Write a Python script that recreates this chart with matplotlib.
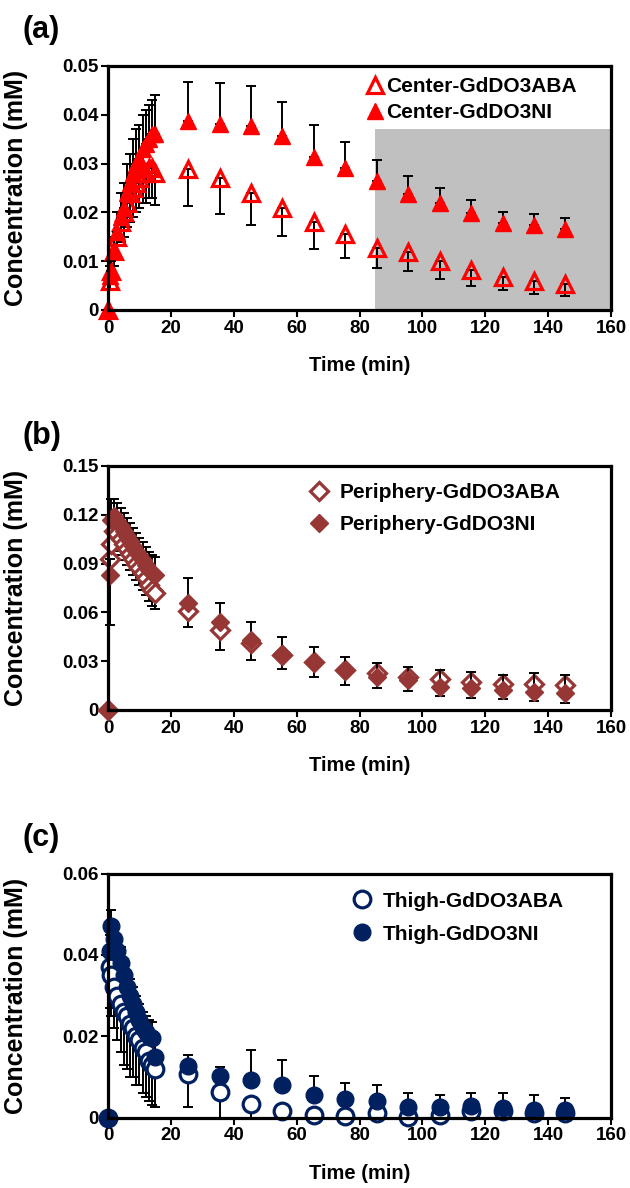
import matplotlib
matplotlib.use("Agg")
import matplotlib.pyplot as plt
from matplotlib.ticker import FuncFormatter, MultipleLocator
import numpy as np

plt.rcParams['font.family'] = ['Liberation Sans', 'DejaVu Sans']
plt.rcParams['font.weight'] = 'bold'

# ---------------- data ----------------
time = [0, 0.5, 1, 2, 3, 4, 5, 6, 7, 8, 9, 10, 11, 12, 13, 14, 15,
        25.5, 35.5, 45.5, 55.5, 65.5, 75.5, 85.5, 95.5, 105.5, 115.5, 125.5, 135.5, 145.5]

# (a) Center
center_aba = [0, 0.006, 0.008, 0.012, 0.015, 0.018, 0.020, 0.022, 0.024, 0.025, 0.026,
              0.027, 0.028, 0.028, 0.029, 0.029, 0.028,
              0.0289, 0.0270, 0.0239, 0.0208, 0.0180, 0.0156, 0.0128, 0.0118, 0.0101,
              0.0082, 0.0068, 0.0059, 0.0053]
center_aba_err = [0, 0.002, 0.002, 0.003, 0.004, 0.004, 0.005, 0.005, 0.006, 0.006, 0.006,
                  0.006, 0.006, 0.006, 0.006, 0.006, 0.0065,
                  0.0075, 0.0073, 0.0064, 0.0057, 0.0054, 0.0049, 0.0042, 0.0038, 0.0038,
                  0.0033, 0.0028, 0.0026, 0.0024]
center_ni = [0, 0.007, 0.008, 0.012, 0.016, 0.019, 0.021, 0.024, 0.026, 0.028, 0.030,
             0.031, 0.033, 0.034, 0.035, 0.036, 0.036,
             0.0387, 0.0382, 0.0378, 0.0356, 0.0314, 0.0292, 0.0265, 0.0237, 0.0220,
             0.0198, 0.0178, 0.0174, 0.0165]
center_ni_err = [0, 0.002, 0.002, 0.003, 0.004, 0.005, 0.005, 0.006, 0.006, 0.007, 0.007,
                 0.007, 0.007, 0.007, 0.007, 0.007, 0.008,
                 0.0081, 0.0083, 0.0080, 0.0071, 0.0066, 0.0052, 0.0042, 0.0038, 0.0029,
                 0.0027, 0.0023, 0.0023, 0.0023]

# (b) Periphery
peri_aba = [0, 0.093, 0.102, 0.110, 0.108, 0.105, 0.102, 0.099, 0.096, 0.093, 0.090,
            0.087, 0.084, 0.081, 0.077, 0.074, 0.072,
            0.061, 0.049, 0.0414, 0.034, 0.0297, 0.0246, 0.0225, 0.0205, 0.019,
            0.0174, 0.016, 0.016, 0.0154]
peri_aba_err = [0, 0.041, 0.010, 0.010, 0.010, 0.010, 0.010, 0.010, 0.010, 0.010, 0.010,
                0.010, 0.010, 0.010, 0.010, 0.010, 0.010,
                0.010, 0.012, 0.0107, 0.009, 0.0092, 0.009, 0.009, 0.009, 0.0106,
                0.0098, 0.0094, 0.0103, 0.0109]
peri_ni = [0, 0.083, 0.117, 0.119, 0.116, 0.113, 0.110, 0.107, 0.104, 0.101, 0.098,
           0.095, 0.092, 0.089, 0.086, 0.084, 0.083,
           0.066, 0.0543, 0.043, 0.0344, 0.0297, 0.0246, 0.0201, 0.0184, 0.0143,
           0.0133, 0.0123, 0.0113, 0.0103]
peri_ni_err = [0, 0.010, 0.013, 0.011, 0.011, 0.011, 0.011, 0.011, 0.011, 0.011, 0.011,
               0.011, 0.011, 0.011, 0.011, 0.011, 0.011,
               0.015, 0.0117, 0.011, 0.0105, 0.0088, 0.008, 0.0086, 0.0082, 0.0103,
               0.0103, 0.0092, 0.0112, 0.0112]

# (c) Thigh
thigh_aba = [0, 0.037, 0.035, 0.032, 0.030, 0.028, 0.026, 0.025, 0.023, 0.022, 0.020,
             0.019, 0.017, 0.016, 0.014, 0.013, 0.012,
             0.0107, 0.0062, 0.0033, 0.0015, 0.0007, 0.0003, 0.0011, 0.0002, 0.0007,
             0.0017, 0.0016, 0.0012, 0.0011]
thigh_aba_err = [0, 0.010, 0.010, 0.010, 0.011, 0.012, 0.013, 0.013, 0.013, 0.012, 0.012,
                 0.011, 0.011, 0.011, 0.010, 0.010, 0.0095,
                 0.0082, 0.0062, 0.0033, 0.0012, 0.0005, 0.0002, 0.0005, 0.0002, 0.0004,
                 0.0005, 0.0005, 0.0005, 0.0005]
thigh_ni = [0, 0.041, 0.047, 0.044, 0.041, 0.038, 0.035, 0.032, 0.030, 0.028, 0.026,
            0.024, 0.022, 0.021, 0.020, 0.0195, 0.015,
            0.0126, 0.0103, 0.0093, 0.0081, 0.0056, 0.0045, 0.0040, 0.0026, 0.0026,
            0.0028, 0.0023, 0.0018, 0.0018]
thigh_ni_err = [0, 0.004, 0.004, 0.004, 0.004, 0.004, 0.004, 0.004, 0.004, 0.004, 0.004,
                0.004, 0.004, 0.004, 0.004, 0.004, 0.004,
                0.0028, 0.0021, 0.0074, 0.0060, 0.0046, 0.0040, 0.0041, 0.0034, 0.0030,
                0.0032, 0.0037, 0.0038, 0.0030]

x_ticks = [0, 20, 40, 60, 80, 100, 120, 140, 160]
shade_x = (85, 160)
shade_top = 0.0371

RED = '#FF0000'
BROWN = '#963735'
NAVY = '#002060'

fig = plt.figure(figsize=(6.30, 11.88), dpi=100)
L, W, H = 108 / 630, 503 / 630, 244 / 1188
axa = fig.add_axes([L, 1 - 310 / 1188, W, H])
axb = fig.add_axes([L, 1 - 710 / 1188, W, H])
axc = fig.add_axes([L, 1 - 1117.5 / 1188, W, H])


def fmt():
    return FuncFormatter(lambda v, p: '0' if abs(v) < 1e-12 else f'{v:.2f}')


def draw(ax, aba, aba_err, ni, ni_err, marker, color, ms, labels, ymax, ystep,
         legend_anchor, lspacing, tpad):
    t = np.array(time)
    aba = np.array(aba); ni = np.array(ni)
    ax.errorbar(t, aba, yerr=[np.array(aba_err), np.zeros_like(aba)], fmt='none',
                ecolor='black', elinewidth=1.4, capsize=3.8, capthick=1.4, zorder=2,
                clip_on=False)
    ax.plot(t, aba, linestyle='none', marker=marker, ms=ms,
            mfc='none' if marker == '^' else 'white',
            mec=color, mew=2.3, zorder=3, clip_on=False, label=labels[0])
    ax.errorbar(t, ni, yerr=[np.zeros_like(ni), np.array(ni_err)], fmt='none',
                ecolor='black', elinewidth=1.4, capsize=3.8, capthick=1.4, zorder=4,
                clip_on=False)
    ax.plot(t, ni, linestyle='none', marker=marker, ms=ms, mfc=color, mec=color,
            mew=1.0, zorder=5, clip_on=False, label=labels[1])
    ax.set_xlim(0, 160)
    ax.set_ylim(0, ymax)
    ax.set_xticks(x_ticks)
    ax.yaxis.set_major_locator(MultipleLocator(ystep))
    ax.yaxis.set_major_formatter(fmt())
    for s in ax.spines.values():
        s.set_linewidth(2.3)
        s.set_zorder(6)
    ax.tick_params(direction='out', length=5, width=1.5, labelsize=13.5, pad=2)
    for lab in ax.get_xticklabels() + ax.get_yticklabels():
        lab.set_fontweight('bold')
    ax.set_xlabel('Time (min)', fontsize=14.5, fontweight='bold')
    ax.set_ylabel('Concentration (mM)', fontsize=18, fontweight='bold')
    ax.xaxis.set_label_coords(0.5, -0.19)
    ax.yaxis.set_label_coords(-0.16, 0.5)
    leg = ax.legend(loc='upper left', bbox_to_anchor=legend_anchor, frameon=False,
                    prop={'weight': 'bold', 'size': 15}, handlelength=0.6,
                    handletextpad=tpad, labelspacing=lspacing, borderaxespad=0,
                    borderpad=0)
    return leg


axa.axvspan(shade_x[0], shade_x[1], ymin=0, ymax=shade_top / 0.05,
            color='#C0C0C0', zorder=1, lw=0)
draw(axa, center_aba, center_aba_err, center_ni, center_ni_err, '^', RED, 12,
     ['Center-GdDO3ABA', 'Center-GdDO3NI'], 0.05, 0.01, (0.518, 0.955), 0.35, 0.25)
draw(axb, peri_aba, peri_aba_err, peri_ni, peri_ni_err, 'D', BROWN, 9.5,
     ['Periphery-GdDO3ABA', 'Periphery-GdDO3NI'], 0.15, 0.03, (0.407, 0.93), 0.63, 0.7)
draw(axc, thigh_aba, thigh_aba_err, thigh_ni, thigh_ni_err, 'o', NAVY, 12,
     ['Thigh-GdDO3ABA', 'Thigh-GdDO3NI'], 0.06, 0.02, (0.4925, 0.926), 0.68, 0.7)

for lbl, y in [('(a)', 30), ('(b)', 436), ('(c)', 838)]:
    fig.text(22 / 630, 1 - y / 1188, lbl, fontsize=22, fontweight='bold',
             ha='left', va='center')

fig.savefig('out.png', dpi=100)
